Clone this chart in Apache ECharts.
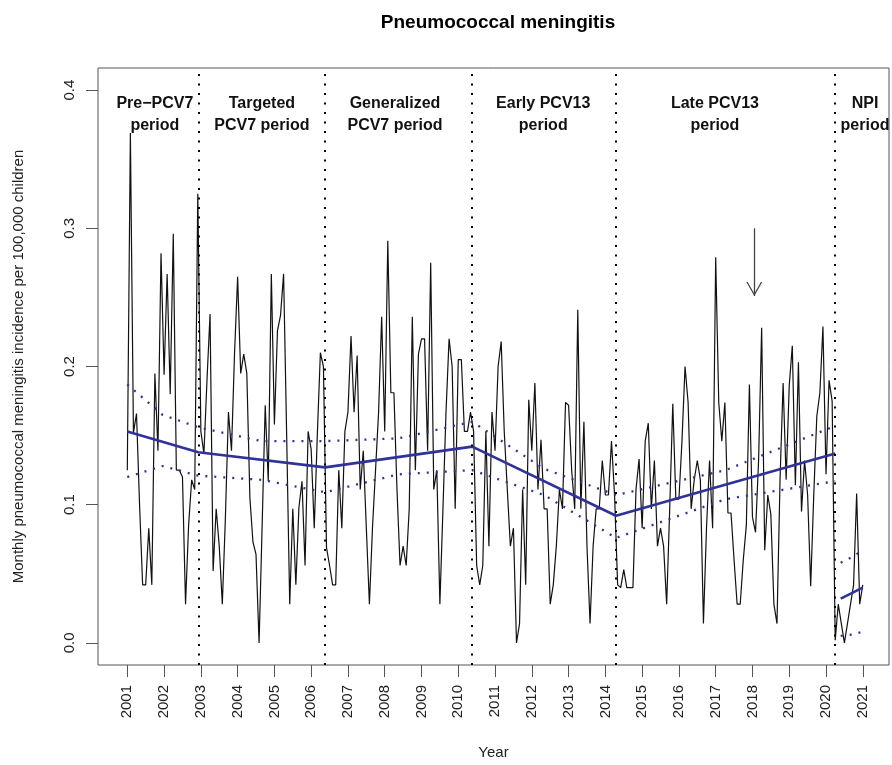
<!DOCTYPE html>
<html>
<head>
<meta charset="utf-8">
<script src="https://cdn.jsdelivr.net/npm/echarts@6/dist/echarts.min.js"></script>
<style>
* {
  margin: 0;
  padding: 0;
}
html,
body {
  width: 892px;
  height: 765px;
  background: #fff;
}
#chart {
  width: 892px;
  height: 765px;
}
</style>
</head>
<body>
<div id="chart"></div>
<script>
// monthly incidence per 100,000 children, one row per year, from Jan 2001
const incidence = [
  0.125, 0.369, 0.152, 0.166, 0.100, 0.042, 0.042, 0.083, 0.042, 0.195, 0.139, 0.282,
  0.194, 0.267, 0.180, 0.296, 0.125, 0.125, 0.120, 0.028, 0.085, 0.118, 0.111, 0.325,
  0.153, 0.137, 0.190, 0.238, 0.052, 0.097, 0.070, 0.028, 0.090, 0.167, 0.139, 0.210,
  0.265, 0.195, 0.209, 0.195, 0.105, 0.073, 0.064, 0.000, 0.085, 0.172, 0.117, 0.267,
  0.158, 0.226, 0.237, 0.267, 0.150, 0.028, 0.097, 0.042, 0.098, 0.117, 0.056, 0.153,
  0.140, 0.083, 0.150, 0.210, 0.200, 0.069, 0.056, 0.042, 0.042, 0.125, 0.083, 0.153,
  0.167, 0.222, 0.167, 0.208, 0.111, 0.139, 0.083, 0.028, 0.083, 0.125, 0.167, 0.236,
  0.153, 0.291, 0.181, 0.181, 0.111, 0.056, 0.070, 0.056, 0.097, 0.236, 0.125, 0.209,
  0.220, 0.220, 0.139, 0.275, 0.111, 0.125, 0.028, 0.097, 0.167, 0.220, 0.200, 0.097,
  0.205, 0.205, 0.153, 0.153, 0.167, 0.153, 0.056, 0.042, 0.056, 0.153, 0.070, 0.167,
  0.139, 0.200, 0.218, 0.153, 0.111, 0.070, 0.083, 0.000, 0.014, 0.111, 0.042, 0.176,
  0.139, 0.188, 0.111, 0.147, 0.097, 0.097, 0.028, 0.042, 0.070, 0.111, 0.097, 0.174,
  0.172, 0.125, 0.097, 0.241, 0.097, 0.160, 0.070, 0.014, 0.070, 0.097, 0.097, 0.132,
  0.107, 0.107, 0.146, 0.107, 0.042, 0.040, 0.053, 0.040, 0.040, 0.040, 0.111, 0.133,
  0.083, 0.146, 0.159, 0.097, 0.132, 0.070, 0.083, 0.070, 0.028, 0.097, 0.173, 0.104,
  0.104, 0.146, 0.200, 0.174, 0.097, 0.118, 0.132, 0.118, 0.014, 0.083, 0.132, 0.083,
  0.279, 0.174, 0.146, 0.174, 0.094, 0.094, 0.060, 0.028, 0.028, 0.060, 0.085, 0.187,
  0.091, 0.080, 0.132, 0.228, 0.067, 0.107, 0.093, 0.028, 0.014, 0.118, 0.188, 0.118,
  0.186, 0.215, 0.114, 0.203, 0.095, 0.132, 0.107, 0.041, 0.107, 0.164, 0.181, 0.229,
  0.122, 0.190, 0.175, 0.002, 0.028, 0.014, 0.000, 0.014, 0.028, 0.042, 0.108, 0.028,
  0.042
];
const startYear = 2001;

const yearTicks = [2001, 2002, 2003, 2004, 2005, 2006, 2007, 2008, 2009, 2010, 2011,
  2012, 2013, 2014, 2015, 2016, 2017, 2018, 2019, 2020, 2021];
const yTicks = [0, 0.1, 0.2, 0.3, 0.4];

// period boundaries (dotted verticals)
const breaks = [2002.93, 2006.38, 2010.38, 2014.29, 2020.25];
const periodNames = [
  "Pre\u2212PCV7\nperiod",
  "Targeted\nPCV7 period",
  "Generalized\nPCV7 period",
  "Early PCV13\nperiod",
  "Late PCV13\nperiod",
  "NPI\nperiod"
];
const periodCenters = [2001.75, 2004.66, 2008.28, 2012.31, 2016.98, 2021.06];
const periodLabelY = 0.382;

// segmented regression fit
const trendX = [2001, 2002.93, 2006.38, 2010.38, 2014.29, 2020.25];
const trendY = [0.153, 0.138, 0.127, 0.142, 0.092, 0.137];
const npiTrendX = [2020.4, 2021.0];
const npiTrendY = [0.032, 0.040];

// confidence band
const bandX = [2001, 2001.96, 2002.93, 2004.65, 2006.38, 2008.38, 2010.38, 2012.33, 2014.29, 2017.27, 2020.25];
const bandUpper = [0.187, 0.165, 0.156, 0.146, 0.146, 0.148, 0.160, 0.126, 0.107, 0.125, 0.157];
const bandLower = [0.120, 0.128, 0.121, 0.118, 0.109, 0.122, 0.125, 0.107, 0.076, 0.104, 0.117];
const npiBandX = [2020.4, 2020.7, 2021.0];
const npiBandUpper = [0.058, 0.062, 0.067];
const npiBandLower = [0.005, 0.006, 0.008];

// arrow marker
const arrowX = 2018.05;
const arrowFrom = 0.300;
const arrowTo = 0.251;

const font = "Liberation Sans";
const blue = "#2f3299";
const dotted = [2, 7];

const pairs = (xs, ys) => xs.map((x, i) => [x, ys[i]]);
const monthly = incidence.map((v, i) => [startYear + i / 12, v]);

const bandLine = data => ({
  type: "line",
  data: data,
  symbol: "none",
  lineStyle: { color: blue, width: 2.3, type: dotted },
  z: 3
});

const chart = echarts.init(document.getElementById("chart"));
chart.setOption({
  animation: false,
  title: {
    text: "Pneumococcal meningitis",
    left: 493,
    top: 8,
    textAlign: "center",
    textStyle: {
      fontFamily: font,
      fontSize: 19,
      fontWeight: "bold",
      color: "#000"
    }
  },
  grid: {
    left: 98,
    right: 3,
    top: 68,
    bottom: 93,
    show: true,
    borderColor: "#555",
    borderWidth: 1
  },
  xAxis: {
    type: "value",
    min: 2000.203,
    max: 2021.713,
    name: "Year",
    nameLocation: "middle",
    nameGap: 80,
    nameTextStyle: { fontFamily: font, fontSize: 15, color: "#222" },
    axisLine: { show: false, onZero: false },
    splitLine: { show: false },
    axisTick: {
      show: true,
      length: 12,
      customValues: yearTicks,
      lineStyle: { color: "#555", width: 1 }
    },
    axisLabel: {
      rotate: 90,
      margin: 20,
      customValues: yearTicks,
      fontFamily: font,
      fontSize: 15,
      color: "#222",
      formatter: v => String(Math.round(v))
    }
  },
  yAxis: {
    type: "value",
    min: -0.016,
    max: 0.416,
    name: "Monthly pneumococcal meningitis incidence per 100,000 children",
    nameLocation: "middle",
    nameGap: 72,
    nameTextStyle: { fontFamily: font, fontSize: 15, color: "#222" },
    axisLine: { show: false, onZero: false },
    splitLine: { show: false },
    axisTick: {
      show: true,
      length: 12,
      customValues: yTicks,
      lineStyle: { color: "#555", width: 1 }
    },
    axisLabel: {
      rotate: 90,
      margin: 21,
      customValues: yTicks,
      fontFamily: font,
      fontSize: 15,
      color: "#222",
      formatter: v => v.toFixed(1)
    }
  },
  series: [
    {
      type: "line",
      data: monthly,
      symbol: "none",
      lineStyle: { color: "#111", width: 1.2 },
      markLine: {
        silent: true,
        symbol: ["none", "none"],
        label: { show: false },
        lineStyle: { color: "#000", width: 2, type: [2, 7.5] },
        data: breaks.map(b => ({ xAxis: b }))
      },
      z: 2
    },
    bandLine(pairs(bandX, bandUpper)),
    bandLine(pairs(bandX, bandLower)),
    bandLine(pairs(npiBandX, npiBandUpper)),
    bandLine(pairs(npiBandX, npiBandLower)),
    {
      type: "line",
      data: pairs(trendX, trendY),
      symbol: "none",
      lineStyle: { color: blue, width: 2.6 },
      z: 4
    },
    {
      type: "line",
      data: pairs(npiTrendX, npiTrendY),
      symbol: "none",
      lineStyle: { color: blue, width: 2.6 },
      z: 4,
      markLine: {
        silent: true,
        symbol: ["none", "path://M8,0 L8.1,0.1 L7.9,0.1 Z M8,14 L16,28 L14.6,28 L8,16.4 L1.4,28 L0,28 Z"],
        symbolSize: [16, 28],
        label: { show: false },
        lineStyle: { color: "#444", width: 1.3, type: "solid" },
        data: [[{ coord: [arrowX, arrowFrom] }, { coord: [arrowX, arrowTo] }]]
      }
    },
    {
      // period names above the panels
      type: "custom",
      silent: true,
      clip: false,
      data: periodCenters.map((x, i) => [x, periodLabelY, i]),
      renderItem: (params, api) => {
        const pt = api.coord([api.value(0), api.value(1)]);
        return {
          type: "text",
          x: pt[0],
          y: pt[1],
          style: {
            text: periodNames[api.value(2)],
            fontFamily: font,
            fontSize: 16,
            fontWeight: "bold",
            lineHeight: 22,
            fill: "#111",
            align: "center",
            verticalAlign: "middle"
          }
        };
      },
      z: 5
    }
  ]
});
</script>
</body>
</html>
